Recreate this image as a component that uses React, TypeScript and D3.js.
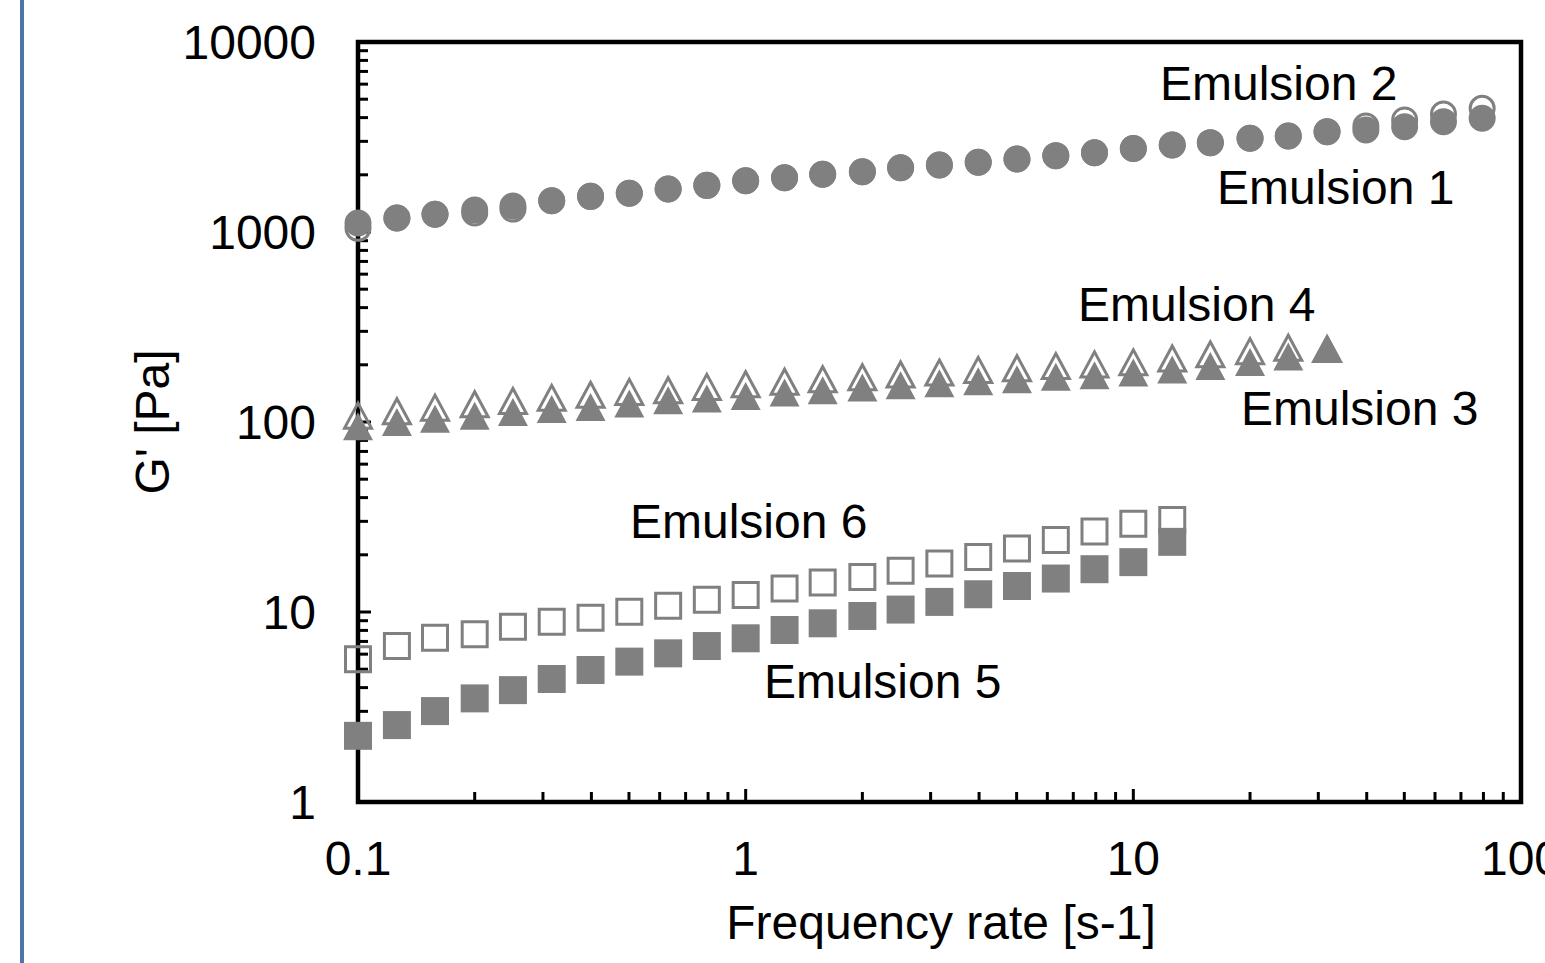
import React, { useEffect, useRef } from "react";
import * as d3 from "d3";

// frequency steps (10 per decade)
const FREQ = [0.1, 0.126, 0.158, 0.2, 0.251, 0.316, 0.398, 0.501, 0.631, 0.794, 1, 1.26, 1.58, 2, 2.51, 3.16, 3.98, 5.01, 6.31, 7.94, 10, 12.6, 15.8, 20, 25.1, 31.6, 39.8, 50.1, 63.1, 79.4];

// G' [Pa]
const EMULSION_1 = [1115, 1185, 1240, 1305, 1370, 1460, 1540, 1600, 1685, 1760, 1862, 1930, 2013, 2077, 2180, 2253, 2327, 2423, 2522, 2615, 2750, 2870, 2953, 3113, 3200, 3372, 3442, 3583, 3806, 3966];
const EMULSION_2 = [1045, 1185, 1240, 1260, 1320, 1460, 1540, 1600, 1685, 1760, 1862, 1930, 2013, 2077, 2180, 2253, 2327, 2423, 2522, 2615, 2750, 2870, 2953, 3113, 3200, 3372, 3610, 3885, 4180, 4475];
const EMULSION_3 = [95, 100, 104, 108, 113, 117, 120, 125, 130, 133, 137, 143, 147, 152, 156, 160, 164, 168, 173, 176, 182, 189, 197, 207, 221, 243];
const EMULSION_4 = [108, 114, 119, 124, 129, 134, 139, 144, 147, 153, 158, 163, 168, 172, 178, 182, 188, 192, 197, 201, 206, 216, 227, 236, 246, 242];
const EMULSION_5 = [2.23, 2.54, 3.01, 3.51, 3.88, 4.44, 4.95, 5.48, 6.06, 6.62, 7.27, 8.04, 8.72, 9.53, 10.3, 11.3, 12.4, 13.7, 15.0, 16.8, 18.3, 23.4];
const EMULSION_6 = [5.64, 6.62, 7.32, 7.63, 8.37, 8.89, 9.33, 10.04, 10.8, 11.6, 12.3, 13.3, 14.3, 15.3, 16.5, 18.0, 19.5, 21.6, 23.9, 26.5, 29.1, 30.5];

const X_TICK_LABELS = ["0.1", "1", "10", "100"];
const Y_TICK_LABELS = ["1", "10", "100", "1000", "10000"];

const FONT = "'Liberation Sans', Arial, sans-serif";
const GREY = "#808080";
const FS = 48;

export default function App() {
  const ref = useRef<SVGSVGElement>(null);

  useEffect(() => {
    const svg = d3.select(ref.current);
    svg.selectAll("*").remove();

    const margin = { top: 42, right: 24, bottom: 161, left: 358 };
    const W = 1545, H = 963;

    const x = d3.scaleLog().domain([0.1, 100]).range([margin.left, W - margin.right]);
    const y = d3.scaleLog().domain([1, 10000]).range([H - margin.bottom, margin.top]);

    // blue rule at the left edge
    svg.append("line")
      .attr("x1", 22).attr("x2", 22)
      .attr("y1", 0).attr("y2", H)
      .attr("stroke", "#4a76a8")
      .attr("stroke-width", 4);

    const x0 = x.range()[0], x1 = x.range()[1];
    const y0 = y.range()[0], y1 = y.range()[1];

    // minor + major ticks, pointing inward
    const isMajor = (v: number) => Math.abs(Math.log10(v) - Math.round(Math.log10(v))) < 1e-9;
    svg.append("g").selectAll("line")
      .data(y.ticks())
      .enter().append("line")
      .attr("x1", x0).attr("x2", d => x0 + (isMajor(d) ? 13 : 10))
      .attr("y1", d => y(d)).attr("y2", d => y(d))
      .attr("stroke", "#000").attr("stroke-width", 3);
    svg.append("g").selectAll("line")
      .data(x.ticks())
      .enter().append("line")
      .attr("x1", d => x(d)).attr("x2", d => x(d))
      .attr("y1", y0).attr("y2", d => y0 - (isMajor(d) ? 13 : 10))
      .attr("stroke", "#000").attr("stroke-width", 3);

    // plot frame
    svg.append("rect")
      .attr("x", x0).attr("y", y1)
      .attr("width", x1 - x0).attr("height", y0 - y1)
      .attr("fill", "none")
      .attr("stroke", "#000")
      .attr("stroke-width", 4.5);

    // tick labels
    svg.append("g").selectAll("text")
      .data(Y_TICK_LABELS)
      .enter().append("text")
      .attr("x", 316)
      .attr("y", d => y(+d) + 17)
      .attr("text-anchor", "end")
      .attr("font-family", FONT).attr("font-size", FS)
      .text(d => d);
    svg.append("g").selectAll("text")
      .data(X_TICK_LABELS)
      .enter().append("text")
      .attr("x", d => x(+d))
      .attr("y", 875)
      .attr("text-anchor", "middle")
      .attr("font-family", FONT).attr("font-size", FS)
      .text(d => d);

    // axis titles
    svg.append("text")
      .attr("x", 941).attr("y", 939)
      .attr("text-anchor", "middle")
      .attr("font-family", FONT).attr("font-size", FS)
      .text("Frequency rate [s-1]");
    svg.append("text")
      .attr("transform", "translate(169,422) rotate(-90)")
      .attr("text-anchor", "middle")
      .attr("font-family", FONT).attr("font-size", FS)
      .text("G' [Pa]");

    // markers
    const tri = (w: number, h: number) => `M0,${-h / 2}L${w / 2},${h / 2}L${-w / 2},${h / 2}Z`;
    const sq = (s: number) => `M${-s / 2},${-s / 2}h${s}v${s}h${-s}Z`;
    const circ = (r: number) => `M${-r},0a${r},${r} 0 1,0 ${2 * r},0a${r},${r} 0 1,0 ${-2 * r},0Z`;

    const series = [
      { vals: EMULSION_2, path: circ(12), filled: false },
      { vals: EMULSION_4, path: tri(27, 25), filled: false },
      { vals: EMULSION_6, path: sq(25), filled: false },
      { vals: EMULSION_1, path: circ(13.5), filled: true },
      { vals: EMULSION_3, path: tri(30, 28), filled: true },
      { vals: EMULSION_5, path: sq(28), filled: true },
    ];

    series.forEach(s => {
      svg.append("g").selectAll("path")
        .data(s.vals)
        .enter().append("path")
        .attr("transform", (d, i) => `translate(${x(FREQ[i])},${y(d)})`)
        .attr("d", s.path)
        .attr("fill", s.filled ? GREY : "none")
        .attr("stroke", s.filled ? "none" : GREY)
        .attr("stroke-width", s.filled ? 0 : 3);
    });

    // series labels
    const labels = [
      { t: "Emulsion 2", x: 1160, y: 100 },
      { t: "Emulsion 1", x: 1217, y: 204 },
      { t: "Emulsion 4", x: 1078, y: 321 },
      { t: "Emulsion 3", x: 1241, y: 425 },
      { t: "Emulsion 6", x: 630, y: 538 },
      { t: "Emulsion 5", x: 764, y: 698 },
    ];
    svg.append("g").selectAll("text")
      .data(labels)
      .enter().append("text")
      .attr("x", d => d.x).attr("y", d => d.y)
      .attr("font-family", FONT).attr("font-size", FS)
      .text(d => d.t);
  }, []);

  return (
    <svg
      ref={ref}
      width={1545}
      height={963}
      style={{ position: "absolute", left: 0, top: 0, background: "#fff", display: "block" }}
    />
  );
}
